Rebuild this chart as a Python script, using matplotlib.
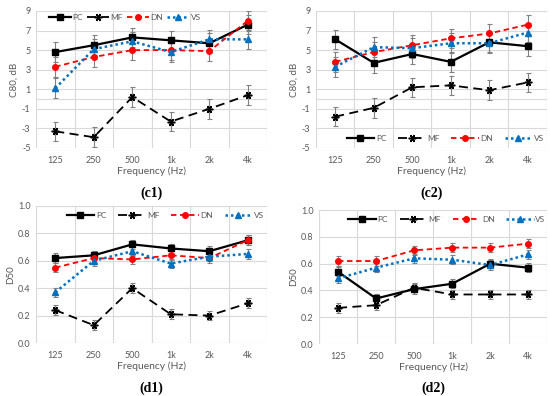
import matplotlib.pyplot as plt
import numpy as np

plt.rcParams['font.family'] = ['Lato', 'DejaVu Sans']

freqs = ['125', '250', '500', '1k', '2k', '4k']
names = ['PC', 'MF', 'DN', 'VS']

# C80, dB
c1 = {
    'PC': [4.8, 5.5, 6.3, 6.0, 5.7, 7.6],
    'MF': [-3.3, -3.9, 0.2, -2.3, -1.0, 0.4],
    'DN': [3.3, 4.3, 5.0, 5.0, 4.9, 8.0],
    'VS': [1.1, 5.1, 5.9, 4.8, 6.1, 6.1],
}
c2 = {
    'PC': [6.1, 3.7, 4.6, 3.8, 5.8, 5.4],
    'MF': [-1.8, -0.9, 1.2, 1.4, 0.9, 1.7],
    'DN': [3.8, 4.8, 5.5, 6.2, 6.7, 7.6],
    'VS': [3.3, 5.3, 5.2, 5.7, 5.7, 6.8],
}
# D50
d1 = {
    'PC': [0.62, 0.64, 0.72, 0.69, 0.67, 0.75],
    'MF': [0.24, 0.13, 0.40, 0.21, 0.20, 0.29],
    'DN': [0.55, 0.62, 0.61, 0.64, 0.62, 0.75],
    'VS': [0.37, 0.60, 0.67, 0.58, 0.63, 0.65],
}
d2 = {
    'PC': [0.54, 0.34, 0.41, 0.45, 0.60, 0.57],
    'MF': [0.27, 0.29, 0.42, 0.37, 0.37, 0.37],
    'DN': [0.62, 0.62, 0.70, 0.72, 0.72, 0.75],
    'VS': [0.49, 0.57, 0.64, 0.63, 0.59, 0.67],
}
err_c80 = 1.0
err_d50 = 0.035

styles = {
    'PC': dict(color='black', ls='-', lw=1.6, marker='s', ms=4.5),
    'MF': dict(color='black', ls=(0, (5, 3)), lw=1.3, marker=(6, 2, 30), ms=5.5, mew=1.1),
    'DN': dict(color='#FF0000', ls=(0, (3, 2)), lw=1.3, marker='o', ms=4),
    'VS': dict(color='#0070C0', ls=(0, (1, 1.2)), lw=1.8, marker='^', ms=4.5),
}

fig = plt.figure(figsize=(5.5, 3.96), dpi=100)


def panel(rect, data, err, ylim, yticks, yfmt, ylabel, tag, leg_y, leg_x, colsp, hl,
          zero_line=False):
    ax = fig.add_axes(rect)
    x = np.arange(len(freqs))
    for t in yticks:
        ax.axhline(t, color='#D9D9D9', lw=0.8, zorder=0)
    for b in np.arange(-0.5, 6, 1.0):
        ax.axvline(b, color='#D9D9D9', lw=0.8, zorder=0)
    if zero_line:
        ax.axhline(0, color='#D9D9D9', lw=0.8, zorder=0)
    for n in names:
        ax.errorbar(x, data[n], yerr=err, fmt='none', ecolor='#808080',
                    elinewidth=0.8, capsize=1.8, capthick=0.8, zorder=2)
        ax.plot(x, data[n], label=n, zorder=3, **styles[n])
    ax.set_xlim(-0.5, 5.5)
    ax.set_ylim(*ylim)
    ax.set_yticks(yticks)
    ax.set_yticklabels([yfmt.format(v) for v in yticks])
    ax.set_xticks(x)
    ax.set_xticklabels(freqs)
    for s in ax.spines.values():
        s.set_visible(False)
    ax.tick_params(length=0, labelsize=6.5, labelcolor='#595959', pad=4)
    ax.tick_params(axis='x', pad=6)
    ax.set_xlabel('Frequency (Hz)', fontsize=7.5, color='#595959', labelpad=1)
    ax.set_ylabel(ylabel, fontsize=7, color='#595959', labelpad=2)
    ax.legend(loc='center', bbox_to_anchor=(leg_x, leg_y), ncol=4, frameon=False,
              fontsize=6, labelcolor='#595959', handlelength=hl,
              handletextpad=0.2, columnspacing=colsp, borderaxespad=0)
    ax.text(0.5, -0.33, tag, transform=ax.transAxes, ha='center', va='center',
            fontsize=10, fontweight='bold', family='Liberation Serif')
    return ax


panel([0.0655, 0.6263, 0.42, 0.346], c1, err_c80, (-5, 9), [-5, -3, -1, 1, 3, 5, 7, 9],
      '{:g}', 'C80, dB', '(c1)', 0.955, 0.385, 0.5, 2.6, zero_line=True)
panel([0.5745, 0.6263, 0.42, 0.346], c2, err_c80, (-5, 9), [-5, -3, -1, 1, 3, 5, 7, 9],
      '{:g}', 'C80, dB', '(c2)', 0.07, 0.56, 1.4, 3.3, zero_line=True)
panel([0.0655, 0.1338, 0.42, 0.346], d1, err_d50, (0, 1), [0.0, 0.2, 0.4, 0.6, 0.8, 1.0],
      '{:.1f}', 'D50', '(d1)', 0.93, 0.56, 1.4, 3.3)
panel([0.58, 0.1313, 0.415, 0.338], d2, err_d50, (0, 1), [0.0, 0.2, 0.4, 0.6, 0.8, 1.0],
      '{:.1f}', 'D50', '(d2)', 0.93, 0.56, 1.4, 3.3)

plt.savefig('out.png', dpi=100)
